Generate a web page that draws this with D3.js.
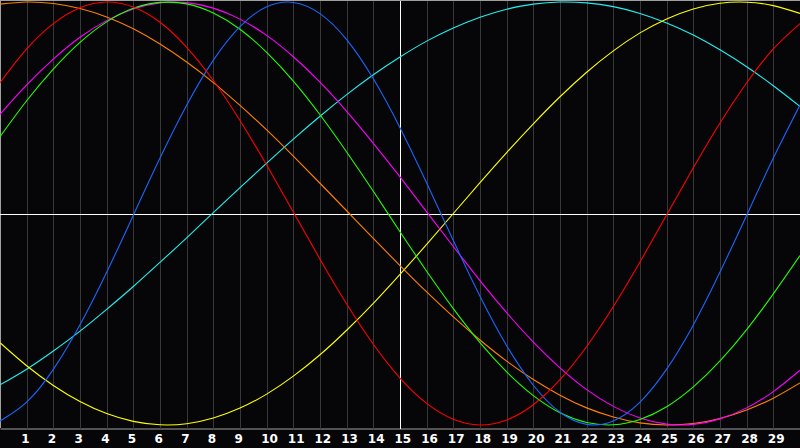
<!DOCTYPE html>
<html>
<head>
<meta charset="utf-8">
<script src="https://cdn.jsdelivr.net/npm/d3@7"></script>
<style>
    html, body { margin: 0; padding: 0; background: #060609; }
    svg { display: block; }
</style>
</head>
<body>
<svg id="chart"></svg>
<script>
// days along the x axis (0..30), values are percent of cycle (-100..100)
const days = d3.range(0, 31);
const dayLabels = d3.range(1, 30);

const physical     = [-98.1,-89.2,-73.7,-52.6,-27.8,-0.8,26.2,51.2,72.5,88.4,97.7,99.8,94.5,82.2,63.7,40.6,14.4,-12.8,-39.1,-62.5,-81.2,-94.0,-99.7,-98.1,-89.2,-73.6,-52.7,-27.7,-0.8,26.2,51.3];
const emotional    = [61.8,77.8,89.8,97.3,100,97.6,90.4,78.6,62.9,44.0,22.9,0.7,-21.6,-42.8,-61.8,-77.8,-89.8,-97.3,-100,-97.6,-90.4,-78.6,-62.9,-44.0,-22.9,-0.7,21.6,42.8,61.8,77.8,89.8];
const intellectual = [36.3,53.3,68.3,80.9,90.6,97.0,99.8,99.1,94.8,87.1,76.2,62.6,46.7,29.1,10.5,-8.6,-27.3,-45.0,-61.1,-74.9,-86.1,-94.2,-98.8,-99.9,-97.4,-91.4,-82.0,-69.7,-54.9,-38.0,-19.9];
const intuitive    = [46.9,60.8,73.0,83.3,91.2,96.7,99.6,99.7,97.1,91.9,84.2,74.1,62.1,48.3,33.2,17.3,0.8,-15.6,-31.7,-46.9,-60.8,-73.0,-83.3,-91.2,-96.7,-99.6,-99.7,-97.1,-91.9,-84.2,-74.1];
const aesthetic    = [-61.1,-72.0,-81.3,-88.9,-94.6,-98.3,-99.9,-99.4,-96.7,-92.0,-85.4,-76.9,-66.8,-55.2,-42.5,-28.8,-14.6,0,14.6,28.8,42.4,55.2,66.8,76.9,85.4,92.0,96.7,99.4,99.9,98.3,94.6];
const awareness    = [99.0,100,99.3,96.9,92.9,87.3,80.1,71.6,61.9,51.1,39.5,27.1,14.3,1.3,-11.8,-24.6,-37.1,-48.9,-59.8,-69.8,-78.5,-85.9,-91.9,-96.2,-99.0,-100,-99.3,-96.9,-92.9,-87.3,-80.1];
const spiritual    = [-81.0,-73.6,-65.0,-55.6,-45.3,-34.5,-23.1,-11.5,0.4,12.2,23.8,35.2,46.0,56.2,65.6,74.0,81.5,87.7,92.8,96.6,99.0,100,99.6,97.8,94.6,90.1,84.4,77.4,69.4,60.4,50.6];

const seriesNames  = ["spiritual", "aesthetic", "awareness", "intuitive", "intellectual", "physical", "emotional"];
const seriesValues = [spiritual, aesthetic, awareness, intuitive, intellectual, physical, emotional];
const seriesColors = ["#22f0f0", "#ffff00", "#ff8000", "#ff00ff", "#22ff00", "#1a66ff", "#ff0000"];

class BiorhythmChart {
    constructor(_config, _data) {
        this.config = {
            parentElement: _config.parentElement,
            containerWidth: _config.containerWidth || 800,
            containerHeight: _config.containerHeight || 448,
            plotHeight: _config.plotHeight || 428
        };
        this.data = _data;
        this.initVis();
    }

    initVis() {
        let vis = this;

        vis.width = vis.config.containerWidth;
        vis.height = vis.config.plotHeight;

        vis.xScale = d3.scaleLinear()
            .domain([0, 30])
            .range([0, vis.width]);

        vis.yScale = d3.scaleLinear()
            .domain([-100, 100])
            .range([425, 2]);

        vis.svg = d3.select(vis.config.parentElement)
            .attr('width', vis.config.containerWidth)
            .attr('height', vis.config.containerHeight);

        vis.svg.append('rect')
            .attr('width', vis.config.containerWidth)
            .attr('height', vis.config.containerHeight)
            .attr('fill', '#060609');

        // day grid + labels
        vis.xAxis = d3.axisBottom(vis.xScale)
            .tickValues(dayLabels)
            .tickSize(-vis.height)
            .tickSizeOuter(0)
            .tickPadding(6)
            .tickFormat(d3.format("d"));

        vis.xAxisG = vis.svg.append('g')
            .attr('class', 'axis x-axis')
            .attr('transform', `translate(0,${vis.height + 0.5})`);
    }

    updateVis() {
        let vis = this;

        vis.line = d3.line()
            .x((d, i) => vis.xScale(days[i]))
            .y(d => vis.yScale(d))
            .curve(d3.curveNatural);

        vis.renderVis();
    }

    renderVis() {
        let vis = this;

        vis.xAxisG.call(vis.xAxis);
        vis.xAxisG.select('.domain')
            .attr('stroke', '#a0a0a0');
        vis.xAxisG.selectAll('.tick line')
            .attr('stroke', d => d === 15 ? '#ffffff' : '#383838')
            .attr('shape-rendering', 'crispEdges');
        vis.xAxisG.selectAll('.tick text')
            .attr('fill', '#ffffff')
            .attr('text-anchor', 'start')
            .attr('x', -6)
            .style('font-family', 'DejaVu Sans, sans-serif')
            .style('font-weight', 'bold')
            .style('font-size', '12px');

        // left + top border
        vis.svg.append('path')
            .attr('d', `M0.5,${vis.height}V0.5H${vis.width}`)
            .attr('fill', 'none')
            .attr('stroke', '#a0a0a0')
            .attr('shape-rendering', 'crispEdges');

        // zero line
        let y0 = Math.round(vis.yScale(0)) + 0.5;
        vis.svg.append('line')
            .attr('x1', 0).attr('x2', vis.width)
            .attr('y1', y0).attr('y2', y0)
            .attr('stroke', '#ffffff')
            .attr('shape-rendering', 'crispEdges');

        vis.svg.selectAll('.bio-line')
            .data(vis.data)
            .join('path')
            .attr('class', 'bio-line')
            .attr('d', d => vis.line(d.values))
            .attr('fill', 'none')
            .attr('stroke', d => d.color)
            .attr('stroke-width', 1.1);
    }
}

const chartData = seriesNames.map((name, i) => ({
    name: name,
    values: seriesValues[i],
    color: seriesColors[i]
}));

const chart = new BiorhythmChart({ parentElement: '#chart' }, chartData);
chart.updateVis();
</script>
</body>
</html>
